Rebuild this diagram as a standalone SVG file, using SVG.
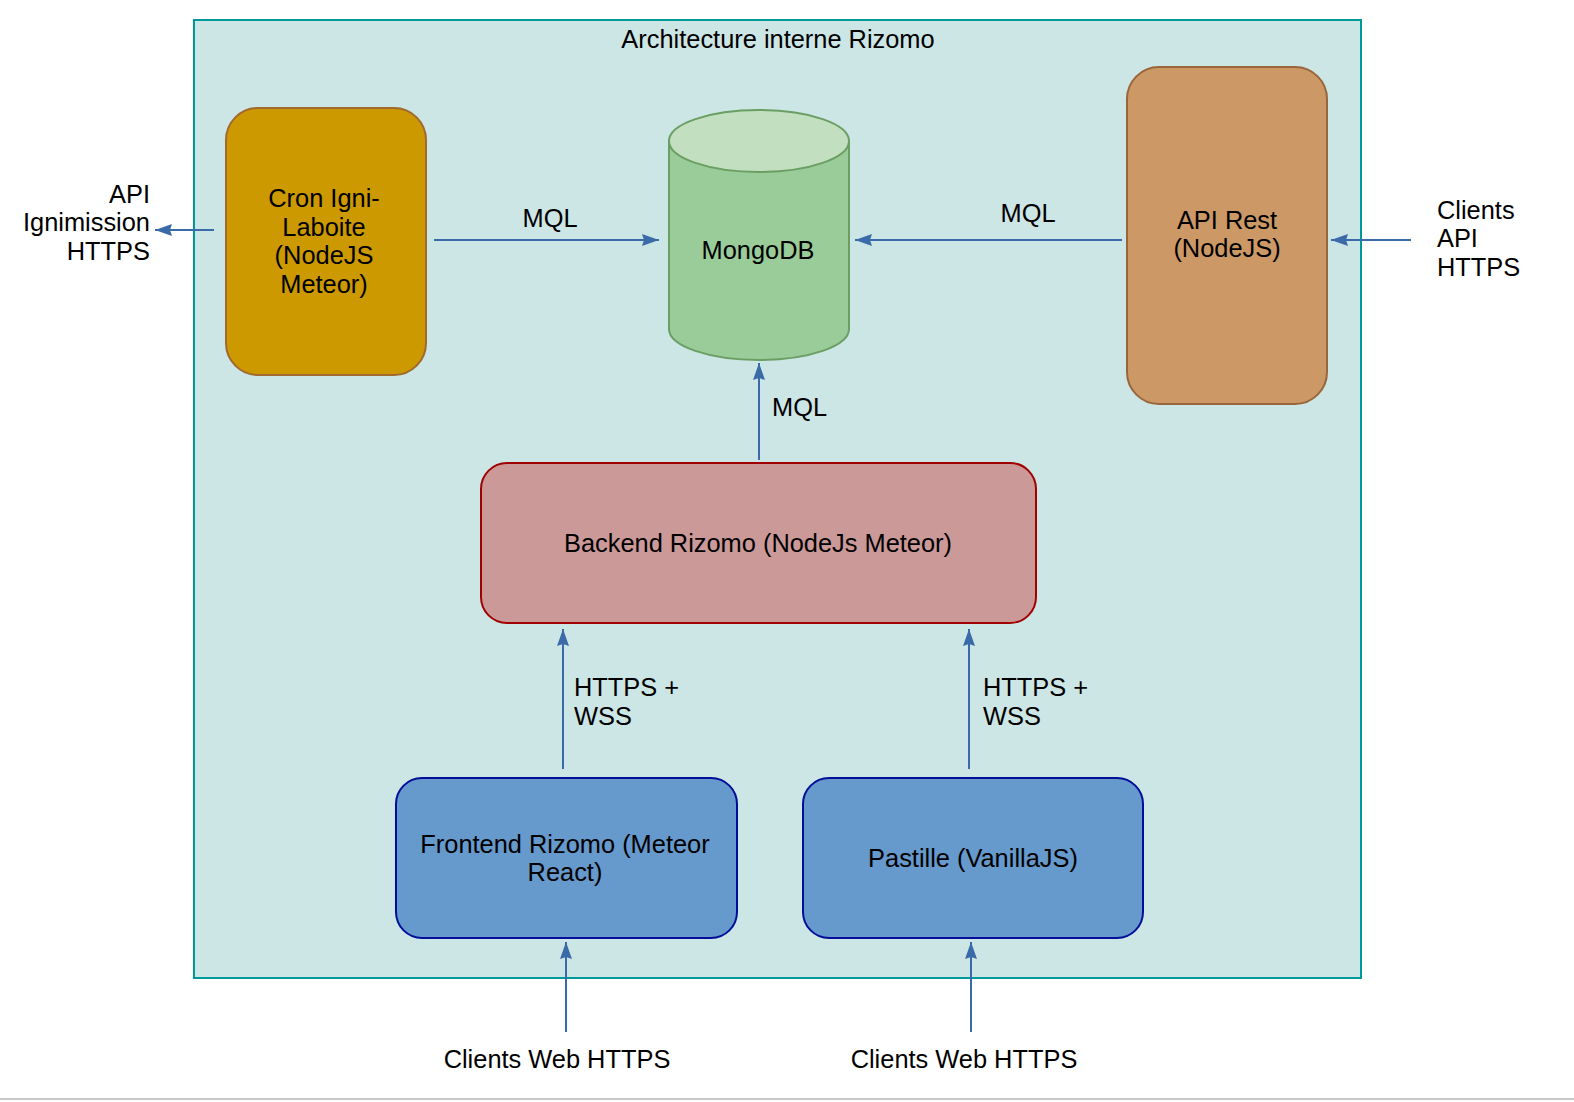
<svg xmlns="http://www.w3.org/2000/svg" width="1574" height="1102" viewBox="0 0 1574 1102">
<defs>
<style>
text{font-family:"Liberation Sans",Arial,sans-serif;font-size:25.4px;fill:#000}
.c{text-anchor:middle}
.r{text-anchor:end}
.edge{stroke:#3a6aa8;stroke-width:2;fill:none}
</style>
<marker id="arr" markerUnits="userSpaceOnUse" markerWidth="18" markerHeight="14" refX="17" refY="6.5" orient="auto">
<path d="M0,0.5 L17,6.5 L0,12.5 L2,6.5 z" fill="#3a6aa8"/>
</marker>
</defs>
<rect width="1574" height="1102" fill="#fff"/>
<line x1="0" y1="1099" x2="1574" y2="1099" stroke="#c8c8c8" stroke-width="2"/>
<g id="container">
<rect x="194" y="20" width="1167" height="958" fill="#cce5e5" stroke="#009999" stroke-width="2"/>
<text class="c" x="778" y="48">Architecture interne Rizomo</text>
</g>
<g id="cron">
<rect x="226" y="108" width="200" height="267" rx="32" fill="#cc9900" stroke="#a0692e" stroke-width="2"/>
<text class="c" x="324" y="207">Cron Igni-</text>
<text class="c" x="324" y="236">Laboite</text>
<text class="c" x="324" y="264">(NodeJS</text>
<text class="c" x="324" y="293">Meteor)</text>
</g>
<g id="mongodb">
<path d="M669,141 L669,329 A90,31 0 0 0 849,329 L849,141" fill="#99cc99" stroke="#6a9e62" stroke-width="2"/>
<ellipse cx="759" cy="141" rx="90" ry="31" fill="#c2e0c0" stroke="#6a9e62" stroke-width="2"/>
<text class="c" x="758" y="259">MongoDB</text>
</g>
<g id="apirest">
<rect x="1127" y="67" width="200" height="337" rx="32" fill="#cc9966" stroke="#99663a" stroke-width="2"/>
<text class="c" x="1227" y="229">API Rest</text>
<text class="c" x="1227" y="257">(NodeJS)</text>
</g>
<g id="backend">
<rect x="481" y="463" width="555" height="160" rx="26" fill="#cc9999" stroke="#a00000" stroke-width="2"/>
<text class="c" x="758" y="552">Backend Rizomo (NodeJs Meteor)</text>
</g>
<g id="frontend">
<rect x="396" y="778" width="341" height="160" rx="26" fill="#6699cc" stroke="#000f99" stroke-width="2"/>
<text class="c" x="565" y="853">Frontend Rizomo (Meteor</text>
<text class="c" x="565" y="881">React)</text>
</g>
<g id="pastille">
<rect x="803" y="778" width="340" height="160" rx="26" fill="#6699cc" stroke="#000f99" stroke-width="2"/>
<text class="c" x="973" y="867">Pastille (VanillaJS)</text>
</g>
<g id="labels-external">
<text class="r" x="150" y="203">API</text>
<text class="r" x="150" y="231">Ignimission</text>
<text class="r" x="150" y="260">HTTPS</text>
<text x="1437" y="219">Clients</text>
<text x="1437" y="247">API</text>
<text x="1437" y="276">HTTPS</text>
<text class="c" x="557" y="1068">Clients Web HTTPS</text>
<text class="c" x="964" y="1068">Clients Web HTTPS</text>
</g>
<g id="connectors">
<line class="edge" x1="434" y1="240" x2="659" y2="240" marker-end="url(#arr)"/>
<text class="c" x="550" y="227">MQL</text>
<line class="edge" x1="1122" y1="240" x2="855" y2="240" marker-end="url(#arr)"/>
<text class="c" x="1028" y="222">MQL</text>
<line class="edge" x1="214" y1="230" x2="155" y2="230" marker-end="url(#arr)"/>
<line class="edge" x1="1411" y1="240" x2="1331" y2="240" marker-end="url(#arr)"/>
<line class="edge" x1="759" y1="460" x2="759" y2="363" marker-end="url(#arr)"/>
<text x="772" y="416">MQL</text>
<line class="edge" x1="563" y1="769" x2="563" y2="629" marker-end="url(#arr)"/>
<text x="574" y="696">HTTPS +</text>
<text x="574" y="725">WSS</text>
<line class="edge" x1="969" y1="769" x2="969" y2="629" marker-end="url(#arr)"/>
<text x="983" y="696">HTTPS +</text>
<text x="983" y="725">WSS</text>
<line class="edge" x1="566" y1="1032" x2="566" y2="942" marker-end="url(#arr)"/>
<line class="edge" x1="971" y1="1032" x2="971" y2="942" marker-end="url(#arr)"/>
</g>
</svg>
